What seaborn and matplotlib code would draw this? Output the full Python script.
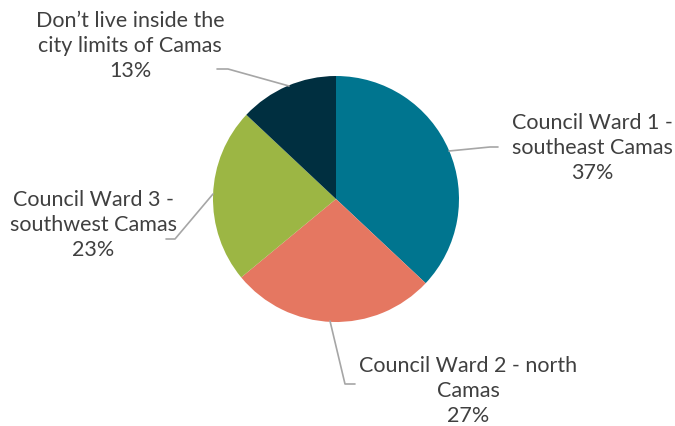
import matplotlib
matplotlib.use("Agg")
import matplotlib.pyplot as plt
import seaborn as sns

categories = ["Council Ward 1 -\nsoutheast Camas", "Council Ward 2 - north\nCamas",
              "Council Ward 3 -\nsouthwest Camas", "Don\u2019t live inside the\ncity limits of Camas"]
values = [37, 27, 23, 13]
colors = ["#00758F", "#E57761", "#9CB644", "#002F40"]

sns.set_theme(style="white")
plt.rcParams['font.family'] = ['Lato', 'DejaVu Sans']

W, H = 675, 427
fig = plt.figure(figsize=(W / 100, H / 100), dpi=100)
ax = fig.add_axes([0, 0, 1, 1])

cx, cy, r = 336, H - 200, 123
ax.pie(values, colors=colors, startangle=90, counterclock=False,
       center=(cx, cy), radius=r, frame=True,
       wedgeprops=dict(linewidth=0))
ax.set_xlim(0, W)
ax.set_ylim(0, H)
ax.axis("off")

# label positions (pixel coords, y from top) and leader lines
label_pos = [(592, 148), (468, 391), (93, 225), (130, 46)]
leaders = [
    [(449, 152), (490, 148), (498, 148)],
    [(330, 322), (345, 385), (355, 385)],
    [(213, 195), (175, 240), (166, 240)],
    [(289, 87), (228, 70), (217, 70)],
]
for cat, v, (lx, ly), pts in zip(categories, values, label_pos, leaders):
    ax.text(lx, H - ly, f"{cat}\n{v}%", ha="center", va="center",
            fontsize=15.5, color="#404040", linespacing=1.32)
    xs = [p[0] for p in pts]
    ys = [H - p[1] for p in pts]
    ax.plot(xs, ys, color="#A6A6A6", lw=1.2)

fig.savefig("out.png", dpi=100)
